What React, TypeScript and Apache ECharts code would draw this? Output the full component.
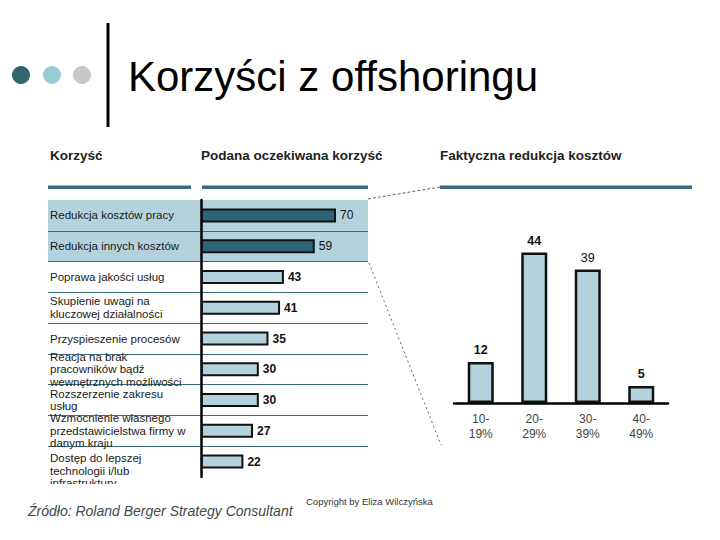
import React, { useEffect, useRef } from 'react';
import * as echarts from 'echarts';

const benefits = [
  'Redukcja kosztów pracy',
  'Redukcja innych kosztów',
  'Poprawa jakości usług',
  'Skupienie uwagi na\nkluczowej działalności',
  'Przyspieszenie procesów',
  'Reacja na brak\npracowników bądź\nwewnętrznych możliwości',
  'Rozszerzenie zakresu\nusług',
  'Wzmocnienie własnego\nprzedstawicielstwa firmy w\ndanym kraju',
  'Dostęp do lepszej\ntechnologii i/lub\ninfrastruktury',
];
const expectedValues = [70, 59, 43, 41, 35, 30, 30, 27, 22];
const reductionRanges = ['10-\n19%', '20-\n29%', '30-\n39%', '40-\n49%'];
const reductionValues = [12, 44, 39, 5];

const titleText = 'Korzyści z offshoringu';
const headerTexts = ['Korzyść', 'Podana oczekiwana korzyść', 'Faktyczna redukcja kosztów'];
const sourceText = 'Źródło: Roland Berger Strategy Consultant';
const copyrightText = 'Copyright by Eliza Wilczyńska';

const FONT = '"Liberation Sans", Arial, sans-serif';
const DARK = '#2c6579';
const LIGHT = '#b4d2dd';
const RULE = '#3a6b7b';

export default function App() {
  const ref = useRef<HTMLDivElement>(null);
  useEffect(() => {
    if (!ref.current) return;
    const chart = echarts.init(ref.current, null, { renderer: 'svg' });
    const option: any = {
      animation: false,
      backgroundColor: '#fff',
      textStyle: { fontFamily: FONT },
      grid: [
        { left: 48, top: 200, width: 320, height: 277, containLabel: false, outerBoundsMode: 'none' },
        { left: 454, top: 232, width: 214, height: 171, containLabel: false, outerBoundsMode: 'none' },
      ],
      xAxis: [
        { gridIndex: 0, type: 'value', min: -79.3, max: 86.6, show: false },
        {
          gridIndex: 1,
          type: 'category',
          data: reductionRanges,
          axisLine: { lineStyle: { color: '#000', width: 2.5 } },
          axisTick: { show: false },
          axisLabel: { margin: 8, fontSize: 12, lineHeight: 15, color: '#444', fontFamily: FONT },
        },
      ],
      yAxis: [
        {
          gridIndex: 0,
          type: 'category',
          inverse: true,
          data: benefits,
          axisLine: { show: true, onZero: true, lineStyle: { color: '#000', width: 2.5 } },
          axisTick: { show: false },
          axisLabel: {
            margin: -149,
            interval: 0,
            formatter: (value: string, index: number) => {
              const lines = value.split('\n').map((l) => `{a|${l}}`);
              if (index === benefits.length - 1) lines.unshift('{sp| }');
              return lines.join('\n');
            },
            rich: {
              a: {
                width: 147,
                align: 'left',
                fontSize: 11.5,
                lineHeight: 12.5,
                color: '#1a1a1a',
                fontFamily: FONT,
              },
              sp: { fontSize: 11.5, lineHeight: 18 },
            },
          },
          splitLine: {
            show: true,
            showMinLine: false,
            showMaxLine: false,
            lineStyle: { color: RULE, width: 1 },
          },
          splitArea: {
            show: true,
            areaStyle: { color: benefits.map((_, i) => (i < 2 ? LIGHT : 'rgba(0,0,0,0)')) },
          },
        },
        { gridIndex: 1, type: 'value', min: 0, max: 50, show: false },
      ],
      series: [
        {
          type: 'bar',
          xAxisIndex: 0,
          yAxisIndex: 0,
          barWidth: 14,
          data: expectedValues.map((v, i) => ({
            value: v,
            itemStyle: { color: i < 2 ? DARK : LIGHT },
            label: { fontWeight: i < 2 ? 'normal' : 'bold' },
          })),
          itemStyle: { borderColor: '#111', borderWidth: 2 },
          label: { show: true, position: 'right', distance: 4, fontSize: 12, color: '#111', fontFamily: FONT },
        },
        {
          type: 'bar',
          xAxisIndex: 1,
          yAxisIndex: 1,
          barWidth: 26,
          data: reductionValues.map((v, i) => ({
            value: v,
            label: { fontWeight: i === 2 ? 'normal' : 'bold' },
          })),
          itemStyle: { color: LIGHT, borderColor: '#111', borderWidth: 2.5 },
          label: { show: true, position: 'top', distance: 5, fontSize: 12.5, color: '#111', fontFamily: FONT },
        },
      ],
      graphic: [
        { type: 'circle', shape: { cx: 21, cy: 75, r: 9 }, style: { fill: '#30666e' } },
        { type: 'circle', shape: { cx: 52, cy: 75, r: 9 }, style: { fill: '#98cdd3' } },
        { type: 'circle', shape: { cx: 82, cy: 75, r: 9 }, style: { fill: '#c8c8c8' } },
        { type: 'rect', shape: { x: 106.5, y: 23, width: 3, height: 104 }, style: { fill: '#000' } },
        {
          type: 'text',
          x: 128,
          y: 76,
          style: { text: titleText, font: `42px ${FONT}`, fill: '#000', verticalAlign: 'middle' },
        },
        {
          type: 'text', x: 50, y: 155,
          style: { text: headerTexts[0], font: `bold 13.5px ${FONT}`, fill: '#222', verticalAlign: 'middle' },
        },
        {
          type: 'text', x: 201, y: 155,
          style: { text: headerTexts[1], font: `bold 13.5px ${FONT}`, fill: '#222', verticalAlign: 'middle' },
        },
        {
          type: 'text', x: 440, y: 155,
          style: { text: headerTexts[2], font: `bold 13.5px ${FONT}`, fill: '#222', verticalAlign: 'middle' },
        },
        { type: 'rect', shape: { x: 48, y: 185.5, width: 143, height: 3.5 }, style: { fill: RULE } },
        { type: 'rect', shape: { x: 202, y: 185.5, width: 166, height: 3.5 }, style: { fill: RULE } },
        { type: 'rect', shape: { x: 440, y: 185.5, width: 252, height: 3.5 }, style: { fill: RULE } },
        {
          type: 'line',
          shape: { x1: 368, y1: 199, x2: 440, y2: 187 },
          style: { stroke: '#666', lineWidth: 1, lineDash: [3, 2] },
        },
        {
          type: 'line',
          shape: { x1: 369, y1: 263, x2: 441, y2: 445 },
          style: { stroke: '#666', lineWidth: 1, lineDash: [2, 3] },
        },
        { type: 'rect', z: 100, shape: { x: 40, y: 484, width: 155, height: 12 }, style: { fill: '#fff' } },
        {
          type: 'text', x: 28, y: 511,
          style: { text: sourceText, font: `italic 14px ${FONT}`, fill: '#3c4b4b', verticalAlign: 'middle' },
        },
        {
          type: 'text', x: 306, y: 501,
          style: { text: copyrightText, font: `9.5px ${FONT}`, fill: '#333', verticalAlign: 'middle' },
        },
      ],
    };
    chart.setOption(option);
    return () => chart.dispose();
  }, []);
  return (
    <div
      ref={ref}
      style={{ position: 'fixed', left: 0, top: 0, width: 720, height: 540, background: '#fff' }}
    />
  );
}
